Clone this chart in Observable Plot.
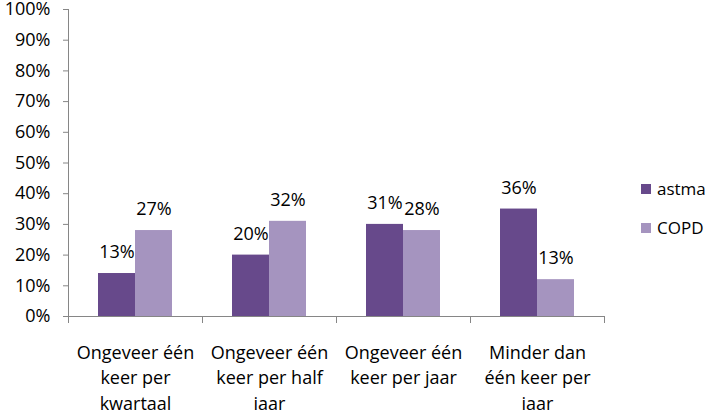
<!DOCTYPE html>
<html>
<head>
<meta charset="utf-8">
<script src="https://cdn.jsdelivr.net/npm/d3@7"></script>
<script src="https://cdn.jsdelivr.net/npm/@observablehq/plot@0.6"></script>
<style>
  html, body { margin: 0; padding: 0; background: white; }
  #wrap { position: relative; width: 708px; height: 410px; font-family: "Open Sans", sans-serif; }
  #legend { position: absolute; left: 641px; top: 178px; font-size: 17px; color: #000; }
  .item { display: flex; align-items: center; height: 21px; margin-bottom: 18px; }
  .sw { width: 10px; height: 10px; margin-right: 6px; }
</style>
</head>
<body>
<div id="wrap"><div id="legend"></div></div>
<script>
const categories = ["Ongeveer één keer per kwartaal", "Ongeveer één keer per half jaar", "Ongeveer één keer per jaar", "Minder dan één keer per jaar"];
const tickLabels = ["Ongeveer één\nkeer per\nkwartaal", "Ongeveer één\nkeer per half\njaar", "Ongeveer één\nkeer per jaar", "Minder dan\néén keer per\njaar"];
const series = ["astma", "COPD"];
const seriesColors = ["#67498B", "#A594BF"];
const astmaValues = [14, 20, 30, 35];
const copdValues = [28, 31, 28, 12];
const astmaLabels = ["13%", "20%", "31%", "36%"];
const copdLabels = ["27%", "32%", "28%", "13%"];
const yTicks = [0, 10, 20, 30, 40, 50, 60, 70, 80, 90, 100];

const data = [];
categories.forEach((c, i) => {
  data.push({category: c, series: "astma", value: astmaValues[i], label: astmaLabels[i]});
  data.push({category: c, series: "COPD", value: copdValues[i], label: copdLabels[i]});
});

const axisColor = "#868686";
const fs = 18;
const chart = Plot.plot({
  width: 708, height: 410,
  marginLeft: 67, marginRight: 104, marginTop: 9, marginBottom: 94,
  style: {fontFamily: "'Open Sans', sans-serif", fontSize: fs + "px", color: "#000", background: "white", overflow: "visible"},
  fx: {domain: categories, padding: 0, label: null},
  x: {domain: series, paddingInner: 0, paddingOuter: 0.766, axis: null},
  y: {domain: [0, 100], label: null},
  color: {domain: series, range: seriesColors},
  marks: [
    Plot.axisY({ticks: yTicks, tickFormat: d => d + "%", tickSize: 5, tickPadding: 13, stroke: axisColor, fill: "#000", fontSize: fs, label: null}),
    Plot.axisFx({anchor: "bottom", tickSize: 0, tickPadding: 24, tickFormat: d => tickLabels[categories.indexOf(d)], lineHeight: 1.42, fontSize: fs, fill: "#000", label: null}),
    Plot.frame({anchor: "left", facetAnchor: "left", insetBottom: -6, stroke: axisColor}),
    Plot.ruleY([0], {stroke: axisColor}),
    Plot.frame({anchor: "left", insetTop: 307, insetBottom: -6, stroke: axisColor}),
    Plot.frame({anchor: "right", insetTop: 307, insetBottom: -6, stroke: axisColor}),
    Plot.barY(data, {fx: "category", x: "series", y: "value", fill: "series"}),
    Plot.text(data, {fx: "category", x: "series", y: "value", text: "label", dy: -21, fontSize: fs, fill: "#000"})
  ]
});
document.getElementById("wrap").prepend(chart);

const legend = document.getElementById("legend");
series.forEach((s, i) => {
  const item = document.createElement("div");
  item.className = "item";
  const sw = document.createElement("span");
  sw.className = "sw";
  sw.style.background = seriesColors[i];
  const t = document.createElement("span");
  t.textContent = s;
  item.append(sw, t);
  legend.append(item);
});
</script>
</body>
</html>
